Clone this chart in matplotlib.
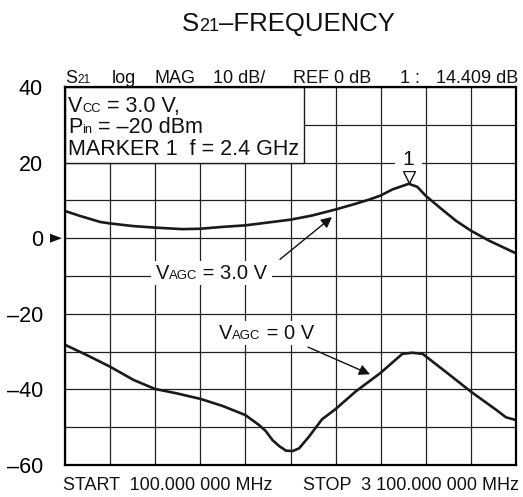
import numpy as np
import matplotlib
matplotlib.use("Agg")
import matplotlib.pyplot as plt
from matplotlib.patches import Rectangle, Polygon
from matplotlib.transforms import IdentityTransform

plt.rcParams['font.family'] = ['Liberation Sans', 'DejaVu Sans']

# sweep, MHz
f_start, f_stop, f_step = 100, 3100, 300

# V_AGC = 3.0 V trace
agc3_mhz = [100, 199, 334, 400, 556, 700, 880, 1000, 1150, 1300, 1600, 1744, 1900,
            2032, 2122, 2200, 2278, 2344, 2386, 2443, 2500, 2590, 2701, 2800, 2923, 3100]
agc3_db = [7.2, 5.9, 4.3, 3.9, 3.2, 2.8, 2.4, 2.5, 3.0, 3.4, 4.9, 6.0, 7.6,
           9.1, 10.2, 11.3, 12.9, 13.8, 14.4, 13.6, 11.2, 8.2, 4.6, 2.0, -0.7, -4.0]

# V_AGC = 0 V trace
agc0_mhz = [100, 244, 400, 556, 700, 838, 1000, 1150, 1300, 1390, 1435, 1480, 1525,
            1570, 1615, 1657, 1723, 1810, 1900, 2032, 2200, 2344, 2410, 2479, 2644,
            2800, 2968, 3034, 3100]
agc0_db = [-28.2, -30.9, -34.0, -37.5, -39.9, -41.0, -42.5, -44.4, -46.8, -49.4, -51.0,
           -53.4, -55.0, -56.2, -56.3, -55.6, -52.5, -47.9, -45.2, -40.6, -35.6, -30.6,
           -30.3, -30.6, -35.7, -40.6, -45.4, -47.4, -48.1]

y_ticks = [-60, -50, -40, -30, -20, -10, 0, 10, 20, 30, 40]
y_labels = ['\u201360', '', '\u201340', '', '\u201320', '', '0', '', '20', '', '40']

marker_mhz, marker_db = 2386, 14.409

W, H = 523, 497
fig = plt.figure(figsize=(W / 100, H / 100), dpi=100)
ax = fig.add_axes([65 / W, 32 / H, 451 / W, 378 / H])
renderer = fig.canvas.get_renderer()

ax.plot(agc3_mhz, agc3_db, color='#1a1a1a', lw=1.9, solid_joinstyle='round', zorder=3)
ax.plot(agc0_mhz, agc0_db, color='#1a1a1a', lw=1.9, solid_joinstyle='round', zorder=3)

ax.set_xlim(f_start, f_stop)
ax.set_ylim(-60, 40)
ax.set_xticks(np.arange(f_start, f_stop + 1, f_step))
ax.set_yticks(y_ticks)
ax.set_yticklabels(y_labels, fontsize=15.5)
ax.tick_params(axis='both', length=0)
ax.tick_params(axis='y', pad=16)
ax.tick_params(axis='x', labelbottom=False)
ax.grid(True, color='#222222', lw=0.9)
ax.set_axisbelow(True)
for sp in ax.spines.values():
    sp.set_linewidth(1.6)
    sp.set_zorder(5)

# info box
ax.add_patch(Rectangle((f_start, 20), 5.3 * f_step, 20, facecolor='white',
                       edgecolor='#1a1a1a', lw=1.0, zorder=4))


def advance(s, size):
    t = fig.text(0, 0, '|' + s + '|', fontsize=size)
    t2 = fig.text(0, 0, '||', fontsize=size)
    w = t.get_window_extent(renderer).width - t2.get_window_extent(renderer).width
    t.remove()
    t2.remove()
    return w


def rich(x, y, parts, size=14, ha='left', bg=None):
    # x, y: display pixels, y is baseline; parts: (text, scale)
    widths = [advance(s, size * k) for s, k in parts]
    total = sum(widths)
    x0 = x - total / 2 if ha == 'center' else (x - total if ha == 'right' else x)
    if bg is not None:
        px = size * 100 / 72
        fig.add_artist(Rectangle((x0 - bg, y - 0.3 * px), total + 2 * bg, 1.2 * px,
                                 transform=IdentityTransform(), facecolor='white',
                                 edgecolor='none', zorder=2.9))
    for (s, k), w in zip(parts, widths):
        fig.text(x0, y, s, fontsize=size * k, va='baseline', ha='left',
                 transform=IdentityTransform(), color='#111111', zorder=3)
        x0 += w


def img(x, y):
    return x, H - y


def data(x, y):
    return ax.transData.transform((x, y))


# title and header
rich(*img(288, 31), [('S', 1), ('21', 0.7), ('\u2013FREQUENCY', 1)], size=18.5, ha='center')
rich(*img(65, 83), [('S', 1), ('21', 0.65)], size=13)
rich(*img(112, 83), [('log', 1)], size=13)
rich(*img(155, 83), [('MAG', 1)], size=13)
rich(*img(213, 83), [('10 dB/', 1)], size=13)
rich(*img(293, 83), [('REF 0 dB', 1)], size=13)
rich(*img(400, 83), [('1 :', 1)], size=13)
rich(*img(518, 83), [('14.409 dB', 1)], size=13, ha='right')

# box text
rich(*img(68, 112), [('V', 1), ('CC', 0.6), (' = 3.0 V,', 1)], size=15.5)
rich(*img(68, 133), [('P', 1), ('in', 0.6), (' = \u201320 dBm', 1)], size=15.5)
rich(*img(68, 155), [('MARKER 1  f = 2.4 GHz', 1)], size=15.5)

# bottom
rich(*img(63, 490), [('START  100.000 000 MHz', 1)], size=13)
rich(*img(519, 490), [('STOP  3 100.000 000 MHz', 1)], size=13, ha='right')

# reference level marker at 0 dB
x0p, y0p = data(f_start, 0)
fig.add_artist(Polygon([[x0p - 15, y0p + 4.5], [x0p - 3, y0p], [x0p - 15, y0p - 4.5]],
                       closed=True, transform=IdentityTransform(), facecolor='#111111',
                       edgecolor='none'))

# marker 1
ax.plot([marker_mhz], [marker_db + 1.8], marker='v', ms=8, mfc='white', mec='#111111',
        mew=1.0, zorder=4)
mx, my = data(marker_mhz, 19.3)
rich(mx, my, [('1', 1)], size=15, ha='center', bg=8)

# curve labels
lx, ly = data(1074, -10.8)
rich(lx, ly, [('V', 1), ('AGC', 0.65), (' = 3.0 V', 1)], size=14.5, ha='center', bg=5)
lx, ly = data(1440, -26.7)
rich(lx, ly, [('V', 1), ('AGC', 0.65), (' = 0 V', 1)], size=14.5, ha='center', bg=5)

arrow = dict(arrowstyle='-|>', color='#111111', lw=1.0, mutation_scale=16, shrinkA=0, shrinkB=0)
ax.annotate('', xy=(1876, 5.6), xytext=(1530, -5.6), arrowprops=arrow, zorder=4)
ax.annotate('', xy=(2129, -36.0), xytext=(1716, -28.8), arrowprops=arrow, zorder=4)

fig.savefig('out.png', dpi=100)
